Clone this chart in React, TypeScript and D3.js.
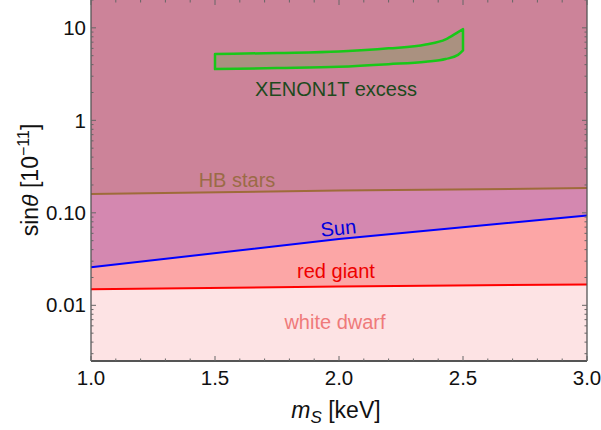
import React, { useEffect, useRef } from 'react';
import * as d3 from 'd3';

// bounds (sin theta in units of 1e-11)
const massGrid = [1.0, 2.0, 3.0];
const hbStars = [0.16, 0.174, 0.185];
const sunBound = [0.0258, 0.052, 0.0935];
const redGiant = [0.0149, 0.016, 0.0168];

// XENON1T excess band
const xenonMass = [1.5, 1.75, 2.0, 2.2, 2.35, 2.43, 2.48, 2.5];
const xenonUpper = [5.2, 5.35, 5.55, 6.0, 6.6, 7.5, 9.0, 9.7];
const xenonLower = [3.58, 3.68, 3.8, 4.05, 4.3, 4.6, 5.1, 5.7];

const xTickValues = [1.0, 1.5, 2.0, 2.5, 3.0];
const xTickLabels = ['1.0', '1.5', '2.0', '2.5', '3.0'];
const yTickValues = [0.01, 0.1, 1, 10];
const yTickLabels = ['0.01', '0.10', '1', '10'];

const FONT = '"Liberation Sans", Arial, sans-serif';

const App = () => {
  const ref = useRef<SVGSVGElement>(null);

  useEffect(() => {
    const width = 601;
    const height = 430;
    const margin = { top: 0, right: 14, bottom: 69, left: 91 };
    const w = width - margin.left - margin.right;
    const h = height - margin.top - margin.bottom;

    const svg = d3.select(ref.current);
    svg.selectAll('*').remove();

    const x = d3.scaleLinear().domain([1, 3]).range([0, w]);
    const y = d3.scaleLog().domain([0.0025, 20]).range([h, 0]);

    const g = svg.append('g').attr('transform', `translate(${margin.left},${margin.top})`);

    const band = (vals: number[]) =>
      d3.area<number>()
        .x((_, i) => x(massGrid[i]))
        .y0((d) => y(d))
        .y1(0)(vals);

    const line = (vals: number[]) =>
      d3.line<number>()
        .x((_, i) => x(massGrid[i]))
        .y((d) => y(d))(vals);

    // white dwarf everywhere, then stack the stronger bounds on top
    g.append('rect').attr('width', w).attr('height', h).attr('fill', '#fde3e4');
    g.append('path').attr('d', band(redGiant)).attr('fill', '#fca6a6');
    g.append('path').attr('d', band(sunBound)).attr('fill', '#d488b0');
    g.append('path').attr('d', band(hbStars)).attr('fill', '#cc8399');

    g.append('path').attr('d', line(redGiant)).attr('fill', 'none').attr('stroke', '#ff0000').attr('stroke-width', 2);
    g.append('path').attr('d', line(sunBound)).attr('fill', 'none').attr('stroke', '#0000ff').attr('stroke-width', 2);
    g.append('path').attr('d', line(hbStars)).attr('fill', 'none').attr('stroke', '#9e6b3a').attr('stroke-width', 2);

    // xenon band
    const xenonArea = d3.area<number>()
      .x((d) => x(d))
      .y0((_, i) => y(xenonLower[i]))
      .y1((_, i) => y(xenonUpper[i]))
      .curve(d3.curveMonotoneX);
    g.append('path')
      .attr('d', xenonArea(xenonMass))
      .attr('fill', '#aa9180')
      .attr('stroke', '#18c818')
      .attr('stroke-width', 2.5)
      .attr('stroke-linejoin', 'round');

    const label = (text: string, px: number, py: number, color: string, rot = 0) =>
      g.append('text')
        .attr('transform', `translate(${px},${py}) rotate(${rot})`)
        .attr('text-anchor', 'middle')
        .style('font-family', FONT)
        .style('font-size', '20px')
        .attr('fill', color)
        .text(text);

    label('XENON1T excess', x(2.0) - 3, 96, '#1d4a1d');
    label('HB stars', x(1.5) + 22, 187, '#9b6b46');
    const sunAngle = (Math.atan2(y(sunBound[2]) - y(sunBound[0]), x(3) - x(1)) * 180) / Math.PI;
    label('Sun', x(2.0), 235, '#0000dd', sunAngle);
    label('red giant', x(2.0) - 3, 278, '#ee0000');
    label('white dwarf', x(2.0) - 4, 329, '#ef7a7a');

    // frame
    const frameColor = '#555';
    g.append('line').attr('x1', 0).attr('x2', 0).attr('y1', 0).attr('y2', h).attr('stroke', frameColor).attr('stroke-width', 1.3);
    g.append('line').attr('x1', w).attr('x2', w).attr('y1', 0).attr('y2', h).attr('stroke', frameColor).attr('stroke-width', 1.3);
    g.append('line').attr('x1', 0).attr('x2', w).attr('y1', h).attr('y2', h).attr('stroke', frameColor).attr('stroke-width', 2);

    const tickColor = '#666';
    // x ticks, bottom and top
    const xMinor = d3.range(10, 31).map((d) => d / 10);
    xMinor.forEach((m) => {
      const major = xTickValues.some((t) => Math.abs(t - m) < 1e-6);
      const len = major ? 5 : 2.5;
      g.append('line').attr('x1', x(m)).attr('x2', x(m)).attr('y1', h).attr('y2', h - len).attr('stroke', tickColor);
      g.append('line').attr('x1', x(m)).attr('x2', x(m)).attr('y1', 0).attr('y2', len).attr('stroke', tickColor);
    });
    xTickValues.forEach((t, i) => {
      g.append('text')
        .attr('x', x(t))
        .attr('y', h + 24)
        .attr('text-anchor', 'middle')
        .style('font-family', FONT)
        .style('font-size', '20.5px')
        .attr('fill', '#111')
        .text(xTickLabels[i]);
    });

    // y ticks, left and right
    const yMinor: number[] = [];
    [0.001, 0.01, 0.1, 1, 10].forEach((dec) => {
      for (let k = 1; k < 10; k++) {
        const v = dec * k;
        if (v >= 0.0025 && v <= 20) yMinor.push(v);
      }
    });
    yMinor.forEach((v) => {
      const major = yTickValues.some((t) => Math.abs(t - v) / t < 1e-6);
      const len = major ? 5 : 2.5;
      g.append('line').attr('x1', 0).attr('x2', len).attr('y1', y(v)).attr('y2', y(v)).attr('stroke', tickColor);
      g.append('line').attr('x1', w).attr('x2', w - len).attr('y1', y(v)).attr('y2', y(v)).attr('stroke', tickColor);
    });
    yTickValues.forEach((t, i) => {
      g.append('text')
        .attr('x', -5)
        .attr('y', y(t))
        .attr('dy', '0.35em')
        .attr('text-anchor', 'end')
        .style('font-family', FONT)
        .style('font-size', '20.5px')
        .attr('fill', '#111')
        .text(yTickLabels[i]);
    });

    // axis titles
    const xt = svg.append('text')
      .attr('x', margin.left + w / 2 - 3)
      .attr('y', 418)
      .attr('text-anchor', 'middle')
      .style('font-family', FONT)
      .style('font-size', '23px')
      .attr('fill', '#111');
    xt.append('tspan').style('font-style', 'italic').text('m');
    xt.append('tspan').style('font-style', 'italic').style('font-size', '17px').attr('dy', 5).text('S');
    xt.append('tspan').attr('dy', -5).text(' [keV]');

    const yt = svg.append('text')
      .attr('transform', `translate(38,${margin.top + 180}) rotate(-90)`)
      .attr('text-anchor', 'middle')
      .style('font-family', FONT)
      .style('font-size', '23px')
      .attr('fill', '#111');
    yt.append('tspan').text('sin');
    yt.append('tspan').style('font-style', 'italic').text('θ');
    yt.append('tspan').text(' [10');
    yt.append('tspan').style('font-size', '16px').attr('dy', -9).text('−11');
    yt.append('tspan').attr('dy', 9).text(']');
  }, []);

  return (
    <svg
      ref={ref}
      width={601}
      height={430}
      style={{ position: 'absolute', left: 0, top: 0, background: '#fff' }}
    />
  );
};

export default App;
